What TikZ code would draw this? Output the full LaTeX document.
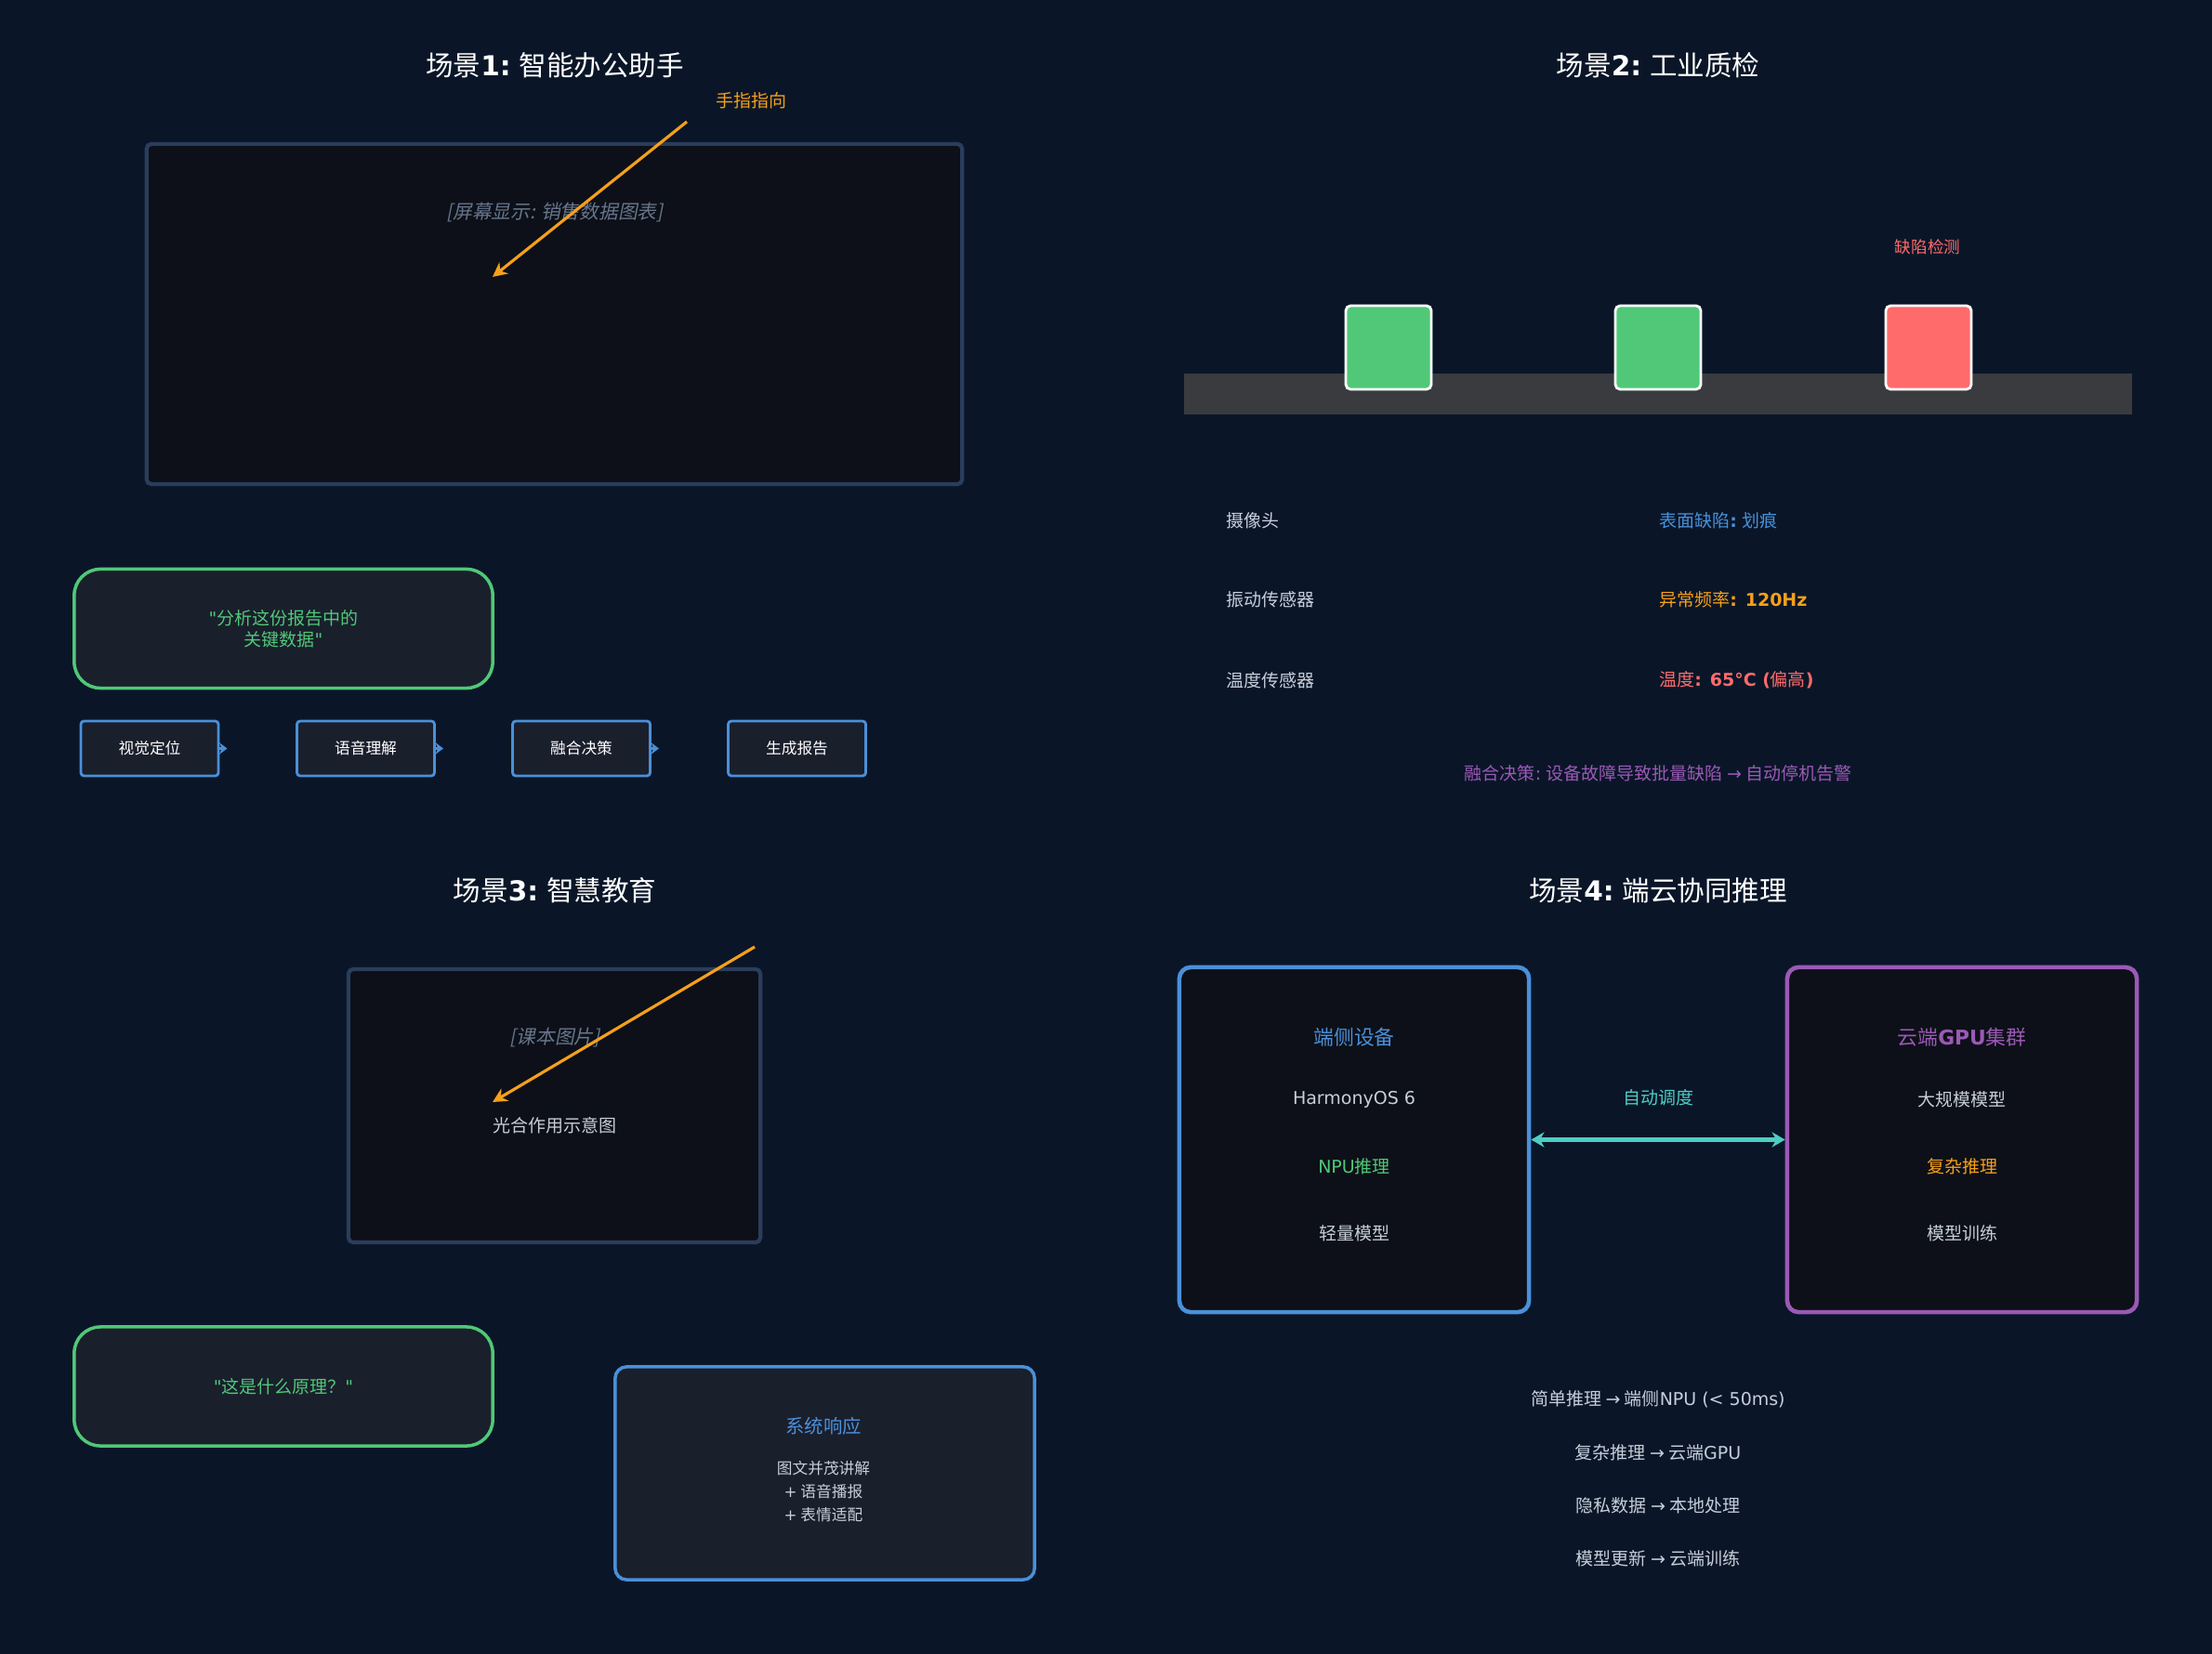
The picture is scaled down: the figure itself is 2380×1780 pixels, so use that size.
\documentclass[tikz,border=0pt]{standalone}
\usepackage{fontspec}
\setmainfont{Noto Sans CJK SC}
\newfontfamily\dejavu{DejaVu Sans}
\newfontfamily\cjkslant{Noto Sans CJK SC}[FakeSlant=0.2]
\newcommand{\latn}[1]{{\dejavu #1}}
\newcommand{\latb}[1]{{\dejavu\bfseries #1}}
\usetikzlibrary{positioning,arrows.meta}

\definecolor{bgnavy}{HTML}{0A1628}
\definecolor{panel}{HTML}{0D1018}
\definecolor{card}{HTML}{1A1F2C}
\definecolor{slateedge}{HTML}{2A3D5C}
\definecolor{hwblue}{HTML}{4A90D9}
\definecolor{okgreen}{HTML}{50C878}
\definecolor{warnorange}{HTML}{F5A01A}
\definecolor{alertred}{HTML}{FF6B6B}
\definecolor{cloudpurple}{HTML}{9B59B6}
\definecolor{linkcyan}{HTML}{4ECDC4}
\definecolor{softgray}{HTML}{C6CEDA}
\definecolor{dimgray}{HTML}{66758C}
\definecolor{beltgray}{HTML}{3A3B3F}

\begin{document}
\begin{tikzpicture}[x=0.01cm,y=-0.01cm,
  title/.style={font=\fontsize{8.4pt}{10pt}\selectfont,text=white},
  body/.style={font=\fontsize{5.4pt}{6.6pt}\selectfont,text=softgray},
  small/.style={font=\fontsize{4.75pt}{6.4pt}\selectfont,text=softgray},
  head/.style={font=\fontsize{6.2pt}{7.5pt}\selectfont},
  screenbox/.style={draw=slateedge,line width=1.2pt,fill=panel,rounded corners=1.5pt,inner sep=0pt},
  quotebox/.style={draw=okgreen,line width=1pt,fill=card,rounded corners=8pt,minimum width=4.5cm,minimum height=1.28cm,
    align=center,text=okgreen,font=\fontsize{5.4pt}{6.6pt}\selectfont},
  stepbox/.style={draw=hwblue,line width=0.8pt,fill=card,rounded corners=1pt,minimum width=1.48cm,minimum height=0.59cm,
    text=white,font=\fontsize{4.75pt}{6pt}\selectfont},
  flowtip/.style={draw=hwblue,line width=0.8pt,-{Stealth[length=2.4pt,width=3.6pt]}},
  pointer/.style={draw=warnorange,line width=0.9pt,-{Stealth[length=4.4pt,width=4.4pt]}},
  product/.style={draw=white,line width=0.8pt,rounded corners=1.5pt,minimum width=0.92cm,minimum height=0.9cm,inner sep=0pt},
  hostbox/.style={line width=1.3pt,fill=panel,rounded corners=3.5pt,minimum width=3.76cm,minimum height=3.71cm,inner sep=0pt},
  linkarrow/.style={draw=linkcyan,line width=1.7pt,{Stealth[length=4pt,width=4.6pt]}-{Stealth[length=4pt,width=4.6pt]}}
]
\fill[bgnavy] (0,0) rectangle (2380,1780);
\useasboundingbox (0,0) rectangle (2380,1780);

% scene 1: office assistant
\node[title] (t1) at (597,70) {场景\latb{1:} 智能办公助手};
\node[screenbox,minimum width=8.77cm,minimum height=3.66cm] (screen) at (596.5,338) {};
\node[body,text=dimgray,font=\fontsize{5.9pt}{7pt}\cjkslant] (screentxt) at (597,229) {[屏幕显示: 销售数据图表]};
\node[body,text=warnorange] (fingertxt) at (808,108) {手指指向};
\coordinate (finger1) at (739,131);
\coordinate (spot1) at (530,298);
\draw[pointer] (finger1) -- (spot1);
\node[quotebox] (ask1) at (305,676.5) {\latn{"}分析这份报告中的\\关键数据\latn{"}};
\foreach \lbl/\xx [count=\i] in {视觉定位/161,语音理解/393.5,融合决策/625.5,生成报告/857.5}
  \node[stepbox] (step\i) at (\xx,805.5) {\lbl};
\foreach \i in {1,2,3} {
  \path (step\i.east) ++(8,0) coordinate (tip\i);
  \draw[flowtip] (step\i.east) -- (tip\i);
}

% scene 2: industrial inspection
\node[title] (t2) at (1784,70) {场景\latb{2:} 工业质检};
\fill[beltgray] (1274,402) rectangle (2294,446);
\node[product,fill=okgreen] (part1) at (1494,374) {};
\node[product,fill=okgreen] (part2) at (1784,374) {};
\node[product,fill=alertred] (part3) at (2075,374) {};
\node[body,text=alertred,font=\fontsize{5pt}{6pt}\selectfont] (defect) at (2074,266) {缺陷检测};
\foreach \sname/\sval/\scol/\yy [count=\i] in {摄像头/{表面缺陷\latb{:} 划痕}/hwblue/560,
    振动传感器/{异常频率\latb{: 120Hz}}/warnorange/645,
    温度传感器/{温度\latb{: 65°C (}偏高\latb{)}}/alertred/732} {
  \node[body,anchor=west] (sensor\i) at (1307,\yy) {\sname};
  \node[body,anchor=west,text=\scol] (reading\i) at (1773,\yy) {\sval};
}
\node[body,text=cloudpurple] (fusion) at (1784,832) {融合决策\latn{:} 设备故障导致批量缺陷 \latn{→} 自动停机告警};

% scene 3: smart education
\node[title] (t3) at (597,958) {场景\latb{3:} 智慧教育};
\node[screenbox,minimum width=4.43cm,minimum height=2.94cm] (book) at (596.5,1190) {};
\node[body,text=dimgray,font=\fontsize{5.9pt}{7pt}\cjkslant] (booktxt) at (597,1117) {[课本图片]};
\node[body] (diagram) at (597,1211) {光合作用示意图};
\coordinate (finger2) at (812,1019);
\coordinate (spot2) at (530,1186);
\draw[pointer] (finger2) -- (spot2);
\node[quotebox] (ask2) at (305,1492) {\latn{"}这是什么原理？\latn{"}};
\node[draw=hwblue,line width=1pt,fill=card,rounded corners=3.5pt,minimum width=4.51cm,minimum height=2.29cm] (reply) at (887.5,1585.5) {};
\node[head,text=hwblue,font=\fontsize{5.8pt}{7pt}\selectfont] (replyhead) at (886,1535) {系统响应};
\node[small,align=center,font=\fontsize{4.75pt}{7.1pt}\selectfont] (replytxt) at (886,1605) {图文并茂讲解\\\latn{+} 语音播报\\\latn{+} 表情适配};

% scene 4: device-cloud inference
\node[title] (t4) at (1784,958) {场景\latb{4:} 端云协同推理};
\node[hostbox,draw=hwblue] (edge) at (1457,1226.5) {};
\node[hostbox,draw=cloudpurple] (cloud) at (2111,1226.5) {};
\node[head,text=hwblue] (edgehead) at (1457,1116) {端侧设备};
\node[body] (edgeos) at (1457,1183) {\latn{HarmonyOS 6}};
\node[body,text=okgreen] (edgenpu) at (1457,1255) {\latn{NPU}推理};
\node[body] (edgemodel) at (1457,1327) {轻量模型};
\node[head,text=cloudpurple] (cloudhead) at (2111,1116) {云端\latb{GPU}集群};
\node[body] (cloudmodel) at (2111,1183) {大规模模型};
\node[body,text=warnorange] (cloudinfer) at (2111,1255) {复杂推理};
\node[body] (cloudtrain) at (2111,1327) {模型训练};
\draw[linkarrow] (edge.east) -- (cloud.west)
  node[midway,yshift=0.45cm,body,text=linkcyan] (sched) {自动调度};
\foreach \rule/\yy [count=\i] in {{简单推理 \latn{→} 端侧\latn{NPU (< 50ms)}}/1506,
    {复杂推理 \latn{→} 云端\latn{GPU}}/1563,
    {隐私数据 \latn{→} 本地处理}/1620,
    {模型更新 \latn{→} 云端训练}/1677}
  \node[body] (rule\i) at (1784,\yy) {\rule};
\end{tikzpicture}
\end{document}
